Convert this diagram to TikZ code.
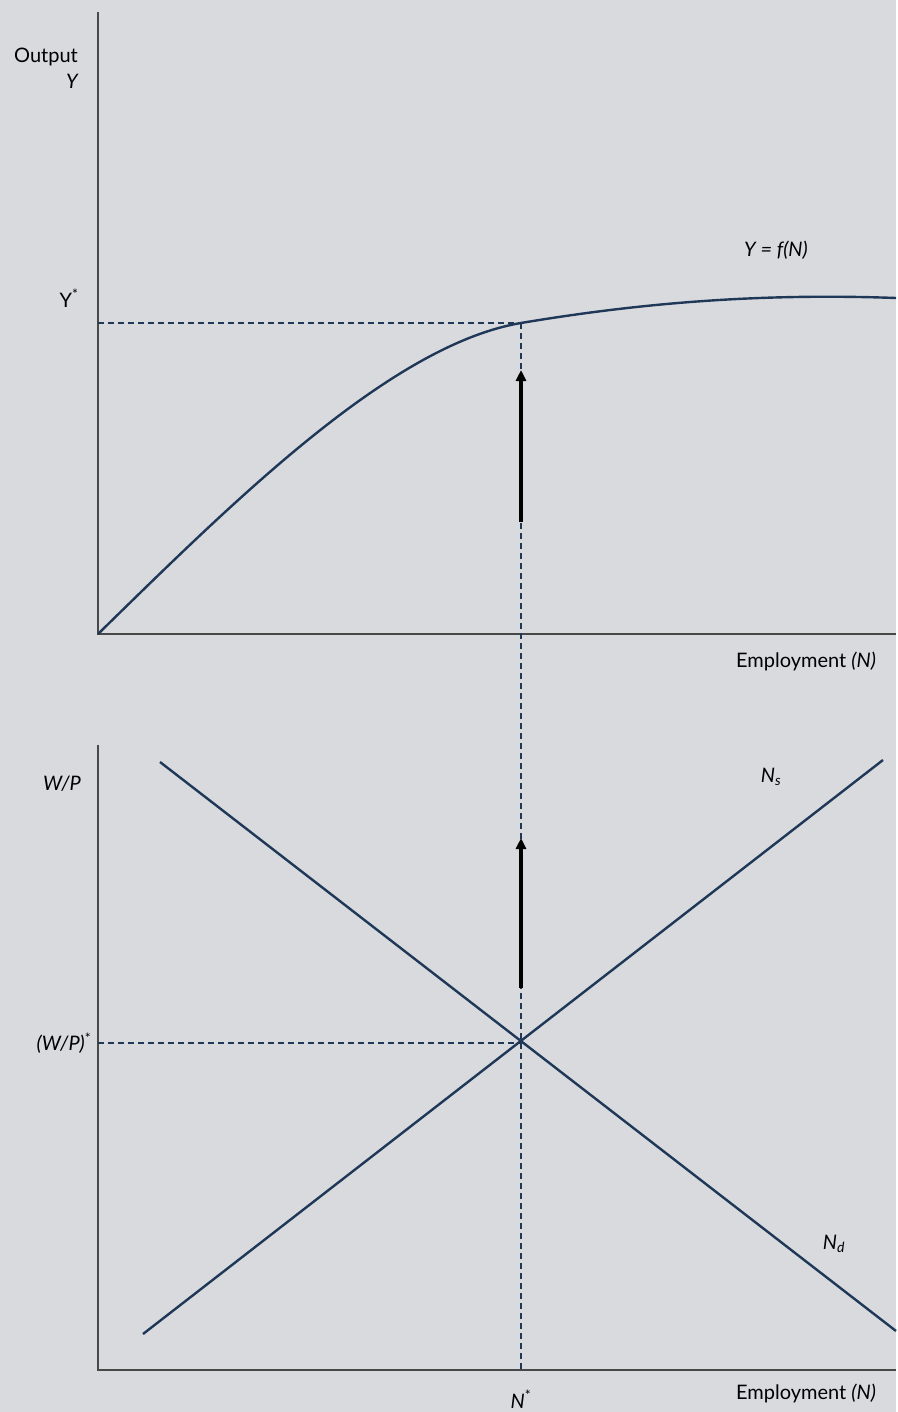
\documentclass[tikz,border=0pt]{standalone}
\usepackage{fontspec}
\setmainfont{Lato}
\definecolor{mBack}{HTML}{D9DADE}
\definecolor{mNavy}{HTML}{1F3857}
\definecolor{mAxis}{HTML}{484848}
\usetikzlibrary{arrows.meta, positioning}

\begin{document}
\begin{tikzpicture}[x=1pt, y=-1pt,
  axis/.style={draw=mAxis, line width=2pt},
  curve/.style={draw=mNavy, line width=2.4pt},
  guide/.style={draw=mNavy, line width=1.2pt, dash pattern=on 6pt off 4pt},
  shiftarrow/.style={draw=black, line width=3.4pt, -{Triangle[length=11pt,width=10pt]}},
  lbl/.style={font=\fontsize{20}{23}\selectfont, inner sep=1pt},
  ilbl/.style={lbl, font=\fontsize{20}{23}\selectfont\itshape}]
\fill[mBack] (0,0) rectangle (896,1412);

% top panel: production function
\coordinate (topY) at (98,12);
\coordinate (topO) at (98,634);
\coordinate (topX) at (896,634);
\coordinate (ystar) at (521,323);
\coordinate (yaxis) at (98,323);
\draw[axis] (topY) -- (topO) -- (topX);
\draw[curve] (topO) .. controls (230,505) and (390,345) .. (ystar)
  .. controls (640,303) and (760,293) .. (896,298);
\draw[guide] (yaxis) -- (ystar);

\node[lbl] (outlbl) at (46,57) {Output};
\node[ilbl] (ylbl) at (72,81) {Y};
\node[lbl] (ystarlbl) at (69,298) {Y\textsuperscript{*}};
\node[ilbl] (prodlbl) at (776,250) {Y = f(N)};
\node[lbl] (emp1lbl) at (806,661) {Employment \textit{(N)}};

% bottom panel: labour market
\coordinate (botY) at (98,745);
\coordinate (botO) at (98,1370);
\coordinate (botX) at (896,1370);
\coordinate (eq) at (521,1043);
\coordinate (wpaxis) at (98,1043);
\coordinate (nstar) at (521,1370);
\draw[axis] (botY) -- (botO) -- (botX);
\coordinate (ns0) at (143,1334);
\coordinate (ns1) at (883,760);
\coordinate (nd0) at (160,762);
\coordinate (nd1) at (896,1331);
\draw[curve] (ns0) -- (ns1);
\draw[curve] (nd0) -- (nd1);
\draw[guide] (wpaxis) -- (eq);
\draw[guide] (ystar) -- (nstar);

% shift arrows over the guide
\coordinate (up1s) at (521,522);
\coordinate (up1e) at (521,370);
\draw[shiftarrow] (up1s) -- (up1e);
\coordinate (up2s) at (521,988);
\coordinate (up2e) at (521,838);
\draw[shiftarrow] (up2s) -- (up2e);

\node[ilbl] (wplbl) at (62,784) {W/P};
\node[lbl] (wpstarlbl) at (64,1043) {\textit{(W/P)}\textsuperscript{*}};
\node[ilbl] (nslbl) at (771,777) {N\textsubscript{s}};
\node[ilbl] (ndlbl) at (834,1244) {N\textsubscript{d}};
\node[lbl] (nstarlbl) at (521,1399) {\textit{N}\textsuperscript{*}};
\node[lbl] (emp2lbl) at (806,1393) {Employment \textit{(N)}};
\end{tikzpicture}
\end{document}
